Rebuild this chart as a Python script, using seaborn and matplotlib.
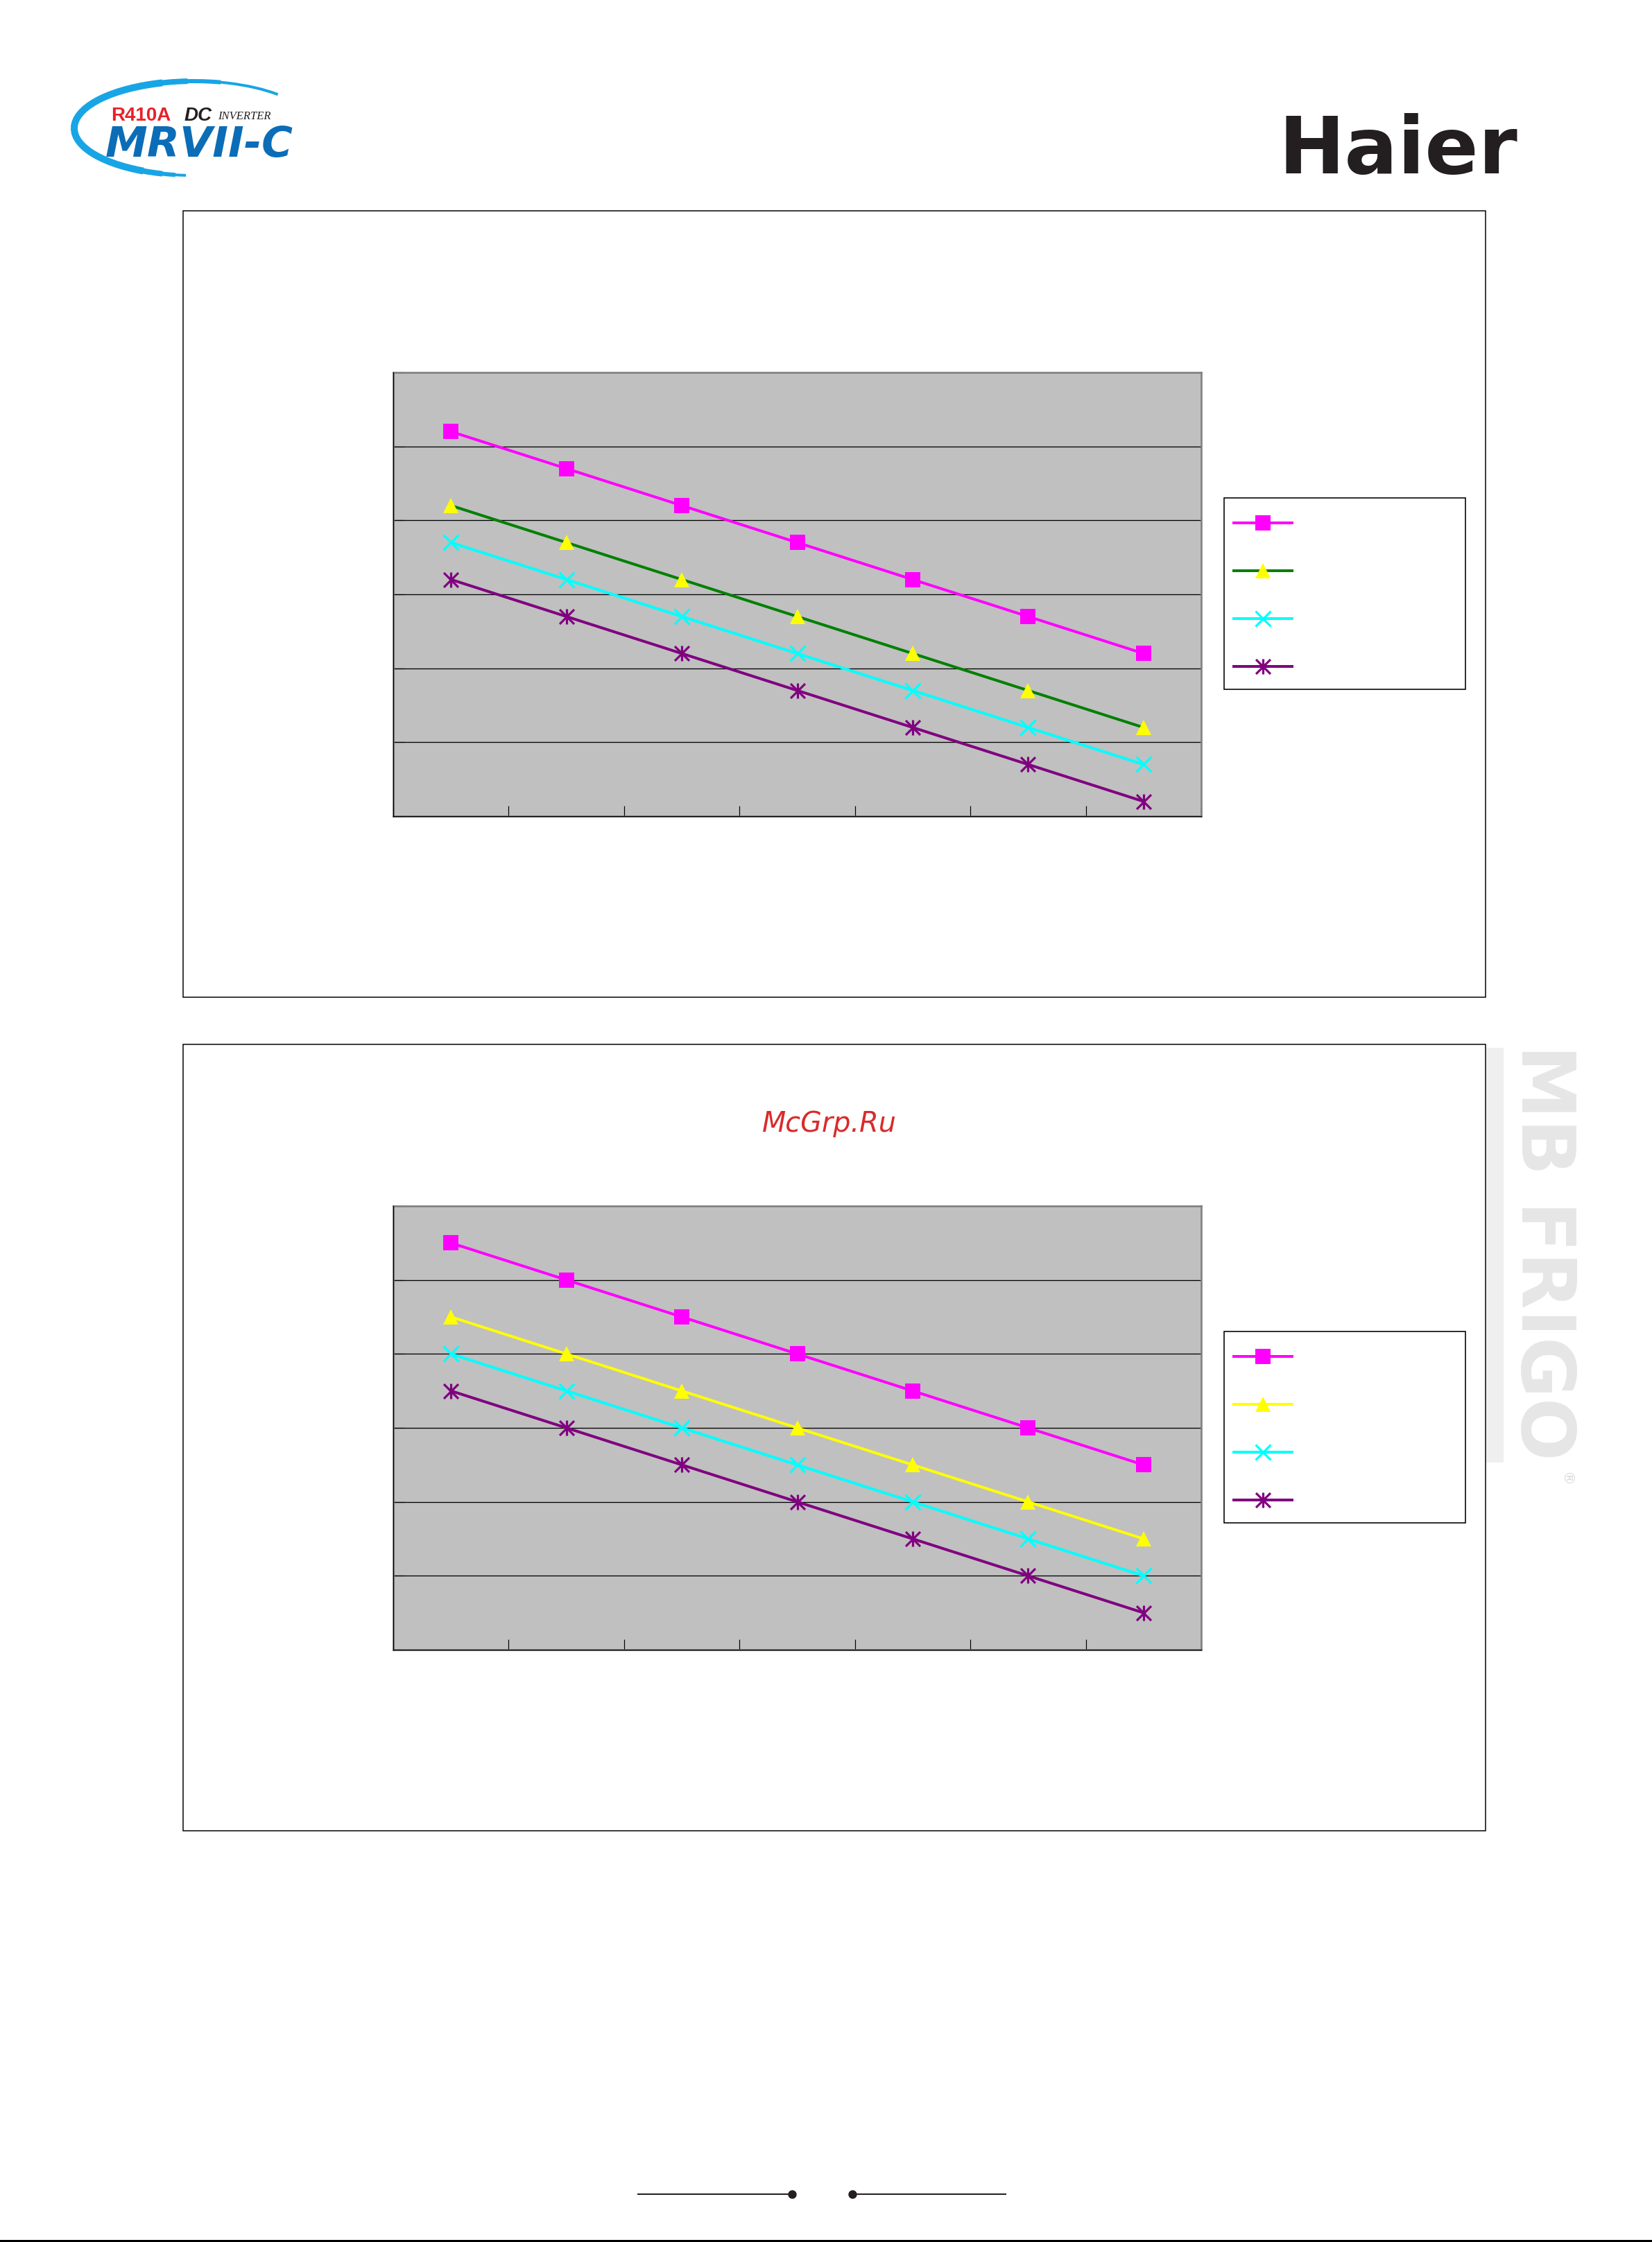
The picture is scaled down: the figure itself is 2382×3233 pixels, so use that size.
import numpy as np
import pandas as pd
import matplotlib
matplotlib.use("Agg")
import matplotlib.pyplot as plt
from matplotlib.patches import Rectangle, Arc
from matplotlib.path import Path
from matplotlib.markers import MarkerStyle
import seaborn as sns

# ---------------- data ----------------
x_positions = [0, 1, 2, 3, 4, 5, 6]

top_pink = [52, 47, 42, 37, 32, 27, 22]
top_green = [42, 37, 32, 27, 22, 17, 12]
top_cyan = [37, 32, 27, 22, 17, 12, 7]
top_purple = [32, 27, 22, 17, 12, 7, 2]

bottom_pink = [55, 50, 45, 40, 35, 30, 25]
bottom_yellow = [45, 40, 35, 30, 25, 20, 15]
bottom_cyan = [40, 35, 30, 25, 20, 15, 10]
bottom_purple = [35, 30, 25, 20, 15, 10, 5]

y_ticks = [0, 10, 20, 30, 40, 50, 60]

top_line_colors = ["#FF00FF", "#008000", "#00FFFF", "#800080"]
bottom_line_colors = ["#FF00FF", "#FFFF00", "#00FFFF", "#800080"]
marker_colors = ["#FF00FF", "#FFFF00", "#00FFFF", "#800080"]

# ---------------- figure ----------------
W, H = 2382, 3233
DPI = 100
PX = 72.0 / DPI  # points per pixel
fig = plt.figure(figsize=(W / DPI, H / DPI), dpi=DPI)
fig.patch.set_facecolor("white")

deco = fig.add_axes([0, 0, 1, 1], zorder=0)
deco.set_xlim(0, W)
deco.set_ylim(H, 0)
deco.axis("off")

asterisk = MarkerStyle(Path([(-1, -1), (1, 1), (-1, 1), (1, -1), (0, -1.05), (0, 1.05)],
                            [Path.MOVETO, Path.LINETO, Path.MOVETO, Path.LINETO,
                             Path.MOVETO, Path.LINETO]))
markers = ["s", "^", "x", asterisk]


def draw_chart(top, series, line_colors):
    # outer chart frame
    deco.add_patch(Rectangle((264, top - 233), 1878, 1134, fill=False,
                             edgecolor="black", lw=1.5 * PX))
    # legend frame
    deco.add_patch(Rectangle((1765, top + 181), 348, 276, facecolor="white",
                             edgecolor="black", lw=1.6 * PX))

    left, right, ptop, pbot = 567, 1732, top, top + 640
    ax = fig.add_axes([left / W, 1 - pbot / H, (right - left) / W, (pbot - ptop) / H], zorder=2)
    ax.set_facecolor("#C0C0C0")
    for vals, lc, mc, mk in zip(series, line_colors, marker_colors, markers):
        line_marker = (mk == "x") or (mk is asterisk)
        sns.lineplot(x=x_positions, y=vals, ax=ax, color=lc, lw=4 * PX,
                     marker=mk, markersize=22 * PX, markerfacecolor=mc,
                     markeredgecolor=mc, markeredgewidth=(3.2 * PX if line_marker else 0),
                     legend=False, errorbar=None)
    ax.set_xlim(-0.5, 6.5)
    ax.set_ylim(0, 60)
    ax.set_xticks(np.arange(-0.5, 7.0, 1.0))
    ax.set_yticks(y_ticks)
    ax.tick_params(axis="x", direction="in", length=15 * PX, width=1.2 * PX, color="black",
                   labelbottom=False)
    ax.tick_params(axis="y", direction="in", length=16 * PX, width=1.2 * PX, color="black",
                   labelleft=False)
    ax.yaxis.grid(True, color="black", lw=1.3 * PX)
    ax.xaxis.grid(False)
    ax.set_axisbelow(True)
    for s in ax.spines.values():
        s.set_color("#808080")
        s.set_linewidth(2.6 * PX)
    ax.axhline(0, color="black", lw=1.3 * PX, zorder=2.6, clip_on=False)
    ax.axvline(-0.5, color="black", lw=1.3 * PX, zorder=2.6, clip_on=False)

    handles = ax.get_lines()[:4]
    F = 20
    Fpx = F / PX
    hh = (44 / Fpx - 0.245) / 0.65
    descent_px = 0.35 * Fpx * (hh - 0.7)
    ax.legend(handles, [" "] * 4, loc="upper left",
              bbox_to_anchor=(1765 / W, 1 - (top + 181 + descent_px / 2) / H),
              bbox_transform=fig.transFigure, frameon=False,
              prop={"size": F}, borderpad=14 / Fpx, borderaxespad=0,
              handlelength=84 / Fpx, handleheight=hh,
              labelspacing=25 / Fpx, handletextpad=0.5)
    return ax


draw_chart(537, [top_pink, top_green, top_cyan, top_purple], top_line_colors)
draw_chart(1739, [bottom_pink, bottom_yellow, bottom_cyan, bottom_purple], bottom_line_colors)

# watermark text on second chart
deco.text(1196, 1632, "McGrp.Ru", color="#d92b2b", fontsize=28.6, style="italic",
          family="DejaVu Sans", ha="center", va="baseline")

# ---------------- header logos ----------------
for (t1, t2, lw) in [(100, 338, 4), (112, 300, 6), (125, 262, 8), (140, 235, 10)]:
    deco.add_patch(Arc((280, 185), 346, 136, theta1=t1, theta2=t2,
                       color="#18a5e6", lw=lw * PX))
deco.text(160, 174, "R410A", color="#e8212a", fontsize=20, weight="bold",
          family="Liberation Sans", va="baseline", ha="left")
deco.text(266, 174, "DC", color="#231f20", fontsize=20, weight="bold", style="italic",
          family="Liberation Sans", va="baseline", ha="left")
deco.text(314, 172, "INVERTER", color="#231f20", fontsize=12, style="italic",
          family="Liberation Serif", va="baseline", ha="left")
deco.text(152, 226, "MRVII-C", color="#0b6db7", fontsize=44, weight="bold",
          style="italic", family="DejaVu Sans", va="baseline", ha="left")

deco.text(1843, 250, "Haier", color="#231f20", fontsize=82, weight="bold",
          family="DejaVu Sans", va="baseline", ha="left")

# side watermark
deco.add_patch(Rectangle((2143, 1511), 25, 598, facecolor="#efefef", edgecolor="none"))
deco.text(2223, 1806, "MB FRIGO", color="#e6e6e6", fontsize=77, weight="bold",
          family="DejaVu Sans", rotation=270, ha="center", va="center")
deco.text(2258, 2132, "®", color="#d8d8d8", fontsize=15, rotation=270,
          family="DejaVu Sans", ha="center", va="center")

# ---------------- footer ----------------
deco.plot([920, 1142], [3164, 3164], color="#231f20", lw=2 * PX)
deco.plot([1229, 1450], [3164, 3164], color="#231f20", lw=2 * PX)
deco.plot([1142, 1229], [3164, 3164], color="#231f20", lw=0, marker="o", markersize=11 * PX)
deco.plot([0, W], [3231, 3231], color="black", lw=3 * PX)

fig.savefig("out.png", dpi=DPI)
